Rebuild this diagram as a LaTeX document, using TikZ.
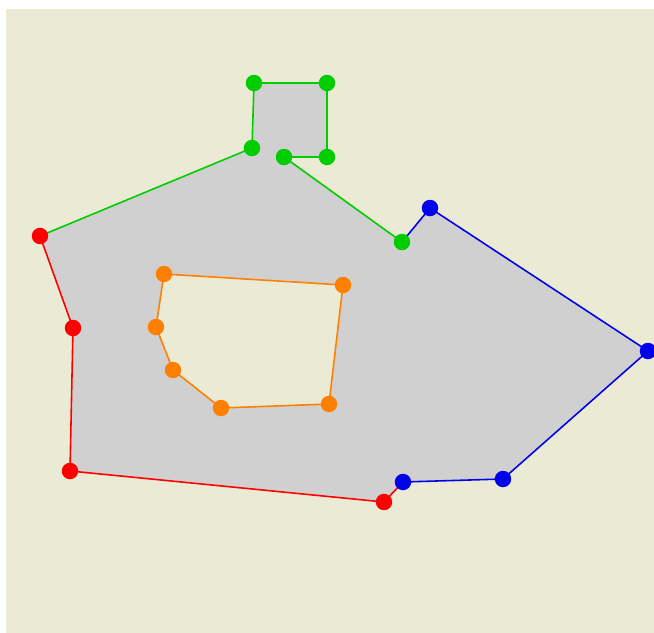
\documentclass[tikz,border=0pt]{standalone}
\usetikzlibrary{backgrounds}
\definecolor{fondo}{RGB}{235,235,213}
\definecolor{relleno}{RGB}{208,208,208}
\definecolor{rojo}{RGB}{255,0,0}
\definecolor{azul}{RGB}{0,0,235}
\definecolor{verde}{RGB}{0,204,0}
\definecolor{naranja}{RGB}{255,128,0}

\begin{document}
\begin{tikzpicture}[x=0.02cm, y=-0.02cm,
      p/.style={circle, inner sep=0pt, minimum size=0.33cm},
      l/.style={line width=0.9pt}]
    \useasboundingbox (0,0) rectangle (654,633);
    % outer ring
    \node[p, fill=rojo] (r1) at (40,236) {};
    \node[p, fill=rojo] (r2) at (73,328) {};
    \node[p, fill=rojo] (r3) at (70,471) {};
    \node[p, fill=rojo] (r4) at (384,502) {};
    \node[p, fill=azul] (b1) at (403,482) {};
    \node[p, fill=azul] (b2) at (503,479) {};
    \node[p, fill=azul] (b3) at (648,351) {};
    \node[p, fill=azul] (b4) at (430,208) {};
    \node[p, fill=verde] (g1) at (402,242) {};
    \node[p, fill=verde] (g2) at (284,157) {};
    \node[p, fill=verde] (g3) at (327,157) {};
    \node[p, fill=verde] (g4) at (327,83) {};
    \node[p, fill=verde] (g5) at (254,83) {};
    \node[p, fill=verde] (g6) at (252,148) {};
    % hole
    \node[p, fill=naranja] (o1) at (164,274) {};
    \node[p, fill=naranja] (o2) at (343,285) {};
    \node[p, fill=naranja] (o3) at (329,404) {};
    \node[p, fill=naranja] (o4) at (221,408) {};
    \node[p, fill=naranja] (o5) at (173,370) {};
    \node[p, fill=naranja] (o6) at (156,327) {};
    \begin{scope}[on background layer]
      \fill[fondo] (6,9) rectangle (654,633);
      \fill[relleno, even odd rule]
        (r1.center) -- (r2.center) -- (r3.center) -- (r4.center) -- (b1.center) -- (b2.center) -- (b3.center)
        -- (b4.center) -- (g1.center) -- (g2.center) -- (g3.center) -- (g4.center) -- (g5.center) -- (g6.center) -- cycle
        (o1.center) -- (o2.center) -- (o3.center) -- (o4.center) -- (o5.center) -- (o6.center) -- cycle;
      \draw[l, rojo] (r1.center) -- (r2.center) -- (r3.center) -- (r4.center) -- (b1.center);
      \draw[l, azul] (b1.center) -- (b2.center) -- (b3.center) -- (b4.center) -- (g1.center);
      \draw[l, verde] (g1.center) -- (g2.center) -- (g3.center) -- (g4.center) -- (g5.center) -- (g6.center) -- (r1.center);
      \draw[l, naranja] (o1.center) -- (o2.center) -- (o3.center) -- (o4.center) -- (o5.center) -- (o6.center) -- cycle;
    \end{scope}
  \end{tikzpicture}
\end{document}
